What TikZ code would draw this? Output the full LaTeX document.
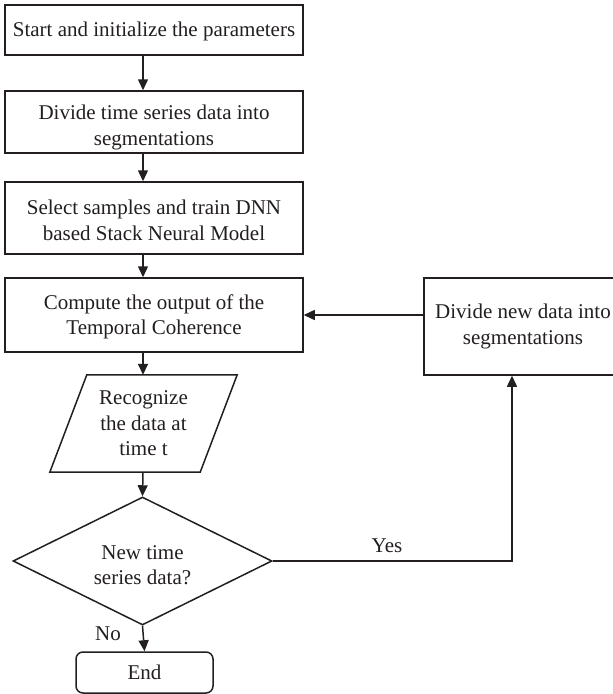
\documentclass[tikz,border=0pt]{standalone}
\usepackage{fontspec}
\setmainfont{Liberation Serif}
\usetikzlibrary{arrows.meta,shapes.geometric}
\definecolor{ink}{RGB}{35,31,32}
% invisible strut that pushes a block of centred lines downwards
\newcommand{\toppad}[1]{\rule{0pt}{#1}}
\begin{document}
\begin{tikzpicture}[x=1pt,y=-1pt,
  every node/.style={font=\fontsize{21}{25.5}\selectfont, text=ink},
  outline/.style={draw=ink, line width=1.5pt},
  procbox/.style={outline, align=center, inner sep=0pt, minimum width=298pt},
  flow/.style={draw=ink, line width=1.5pt, -{Triangle[length=11pt,width=10pt]}},
]
\useasboundingbox (0,0) rectangle (613,694);
\clip (0,0) rectangle (613,694);
\fill[white] (0,0) rectangle (613,694);

% vertical guides for the main flow and the feedback riser
\coordinate (spine) at (143,0);
\coordinate (riser) at (512,0);

% main column
\node[procbox, minimum height=50pt] (init) at (154,30)
  {\toppad{18pt}Start and initialize the parameters};
\node[procbox, minimum height=62pt] (split) at (154,122)
  {\toppad{26pt}Divide time series data into\\segmentations};
\node[procbox, minimum height=72pt] (train) at (154,218)
  {\toppad{19pt}Select samples and train DNN\\based Stack Neural Model};
\node[procbox, minimum height=74pt] (compute) at (154,315)
  {\toppad{18pt}Compute the output of the\\Temporal Coherence};

% input/output parallelogram
\node[align=center, inner sep=0pt, minimum width=187pt, minimum height=97pt]
  (recog) at (143.5,423.5) {Recognize\\the data at\\time t};
\draw[outline] ([xshift=37pt]recog.north west) -- (recog.north east)
  -- ([xshift=-37pt]recog.south east) -- (recog.south west) -- cycle;

% decision
\node[outline, shape=diamond, aspect=2, inner sep=0pt, align=center,
  minimum width=259pt, minimum height=128pt] (query) at (142.5,561)
  {\toppad{22pt}New time\\series data?};

% terminator
\node[outline, rounded corners=7pt, inner sep=0pt,
  minimum width=137pt, minimum height=41pt] (finish) at (144.5,672.5) {End};

% side box for new data, running past the right edge
\node[outline, align=center, inner sep=0pt, minimum width=220pt,
  minimum height=97pt] (update) at (534,326.5)
  {\hspace*{-22pt}Divide new data into\\\hspace*{-22pt}segmentations};

% connectors
\draw[flow] (spine |- init.south) -- (spine |- split.north);
\draw[flow] (spine |- split.south) -- (spine |- train.north);
\draw[flow] (spine |- train.south) -- (spine |- compute.north);
\draw[flow] (spine |- compute.south) -- (spine |- recog.north);
\draw[flow] (spine |- recog.south) -- (query.north);
\draw[flow] (query.south) -- (finish.north);
\draw[flow] (query.east) -| (riser |- update.south);
\draw[flow] (update.west |- compute.east) -- (compute.east);

% branch labels
\node (yes) at (387,546) {Yes};
\node (no) at (108,634) {No};
\end{tikzpicture}
\end{document}
